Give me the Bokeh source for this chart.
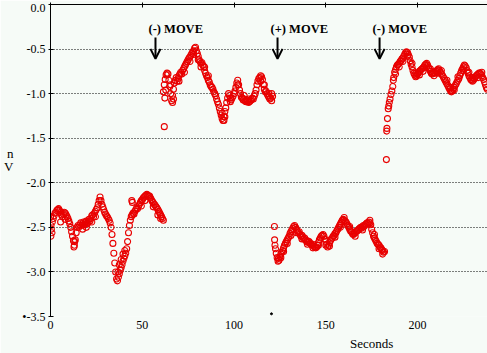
from bokeh.plotting import figure
from bokeh.models import (Range1d, LinearAxis, FixedTicker, NumeralTickFormatter,
                          ColumnDataSource, Arrow, OpenHead)
from bokeh.core.properties import value
from bokeh.embed import file_html
from bokeh.resources import INLINE
import numpy as np

# ---------------- data ----------------
STEP = 0.5  # sampling interval of the trace, s

seg_a_start = 0.0
seg_a_vm = [-2.38, -2.52, -2.44, -2.40, -2.37, -2.34, -2.33, -2.31, -2.30, -2.29,
            -2.31, -2.33, -2.36, -2.38, -2.35, -2.33, -2.34, -2.36, -2.38, -2.40,
            -2.43, -2.46, -2.50, -2.55, -2.60, -2.65, -2.70, -2.64, -2.56, -2.50,
            -2.48, -2.50, -2.47, -2.45, -2.48, -2.46, -2.44, -2.47, -2.45, -2.43,
            -2.46, -2.44, -2.41, -2.43, -2.40, -2.37, -2.36, -2.38, -2.34, -2.32,
            -2.30, -2.28, -2.24, -2.20, -2.16, -2.20, -2.24, -2.27, -2.30, -2.33,
            -2.35, -2.37, -2.38, -2.40, -2.42, -2.45, -2.50, -2.58, -2.68, -2.79,
            -2.90, -3.00, -3.08, -3.10, -3.06, -3.02, -2.98, -2.95, -2.92, -2.88,
            -2.85, -2.82, -2.79, -2.74, -2.66, -2.56, -2.48, -2.42, -2.38, -2.36,
            -2.34, -2.35, -2.32, -2.30, -2.28, -2.29, -2.26, -2.24, -2.22, -2.20,
            -2.19, -2.17, -2.16, -2.15, -2.14, -2.13, -2.14, -2.15, -2.15, -2.17,
            -2.19, -2.21, -2.22, -2.24, -2.25, -2.27, -2.28, -2.30, -2.32, -2.34,
            -2.36, -2.38, -2.40, -2.42]

seg_b_start = 61.5
seg_b_vm = [-0.98, -0.90, -0.84, -0.79, -0.77, -0.78, -0.85, -0.92, -1.00, -1.08,
            -1.02, -0.95, -0.88, -0.85, -0.82, -0.86, -0.83, -0.80, -0.78, -0.76,
            -0.78, -0.74, -0.72, -0.70, -0.68, -0.66, -0.64, -0.62, -0.60, -0.59,
            -0.57, -0.55, -0.53, -0.52, -0.49, -0.48, -0.52, -0.55, -0.58, -0.62,
            -0.64, -0.66, -0.65, -0.68, -0.70, -0.74, -0.77, -0.80, -0.82, -0.85,
            -0.87, -0.90, -0.92, -0.93, -0.95, -0.98, -1.00, -1.02, -1.06, -1.09,
            -1.12, -1.16, -1.20, -1.24, -1.28, -1.30, -1.26, -1.20, -1.16, -1.10,
            -1.05, -1.00, -1.02, -1.05, -1.07, -1.05, -1.03, -1.00, -0.97, -0.93,
            -0.88, -0.85, -0.90, -0.96, -1.00, -1.04, -1.05, -1.07, -1.06, -1.08,
            -1.09, -1.07, -1.08, -1.06, -1.09, -1.08, -1.07, -1.05, -1.06, -1.03,
            -1.00, -0.96, -0.90, -0.86, -0.83, -0.82, -0.80, -0.81, -0.84, -0.90,
            -0.95, -0.98, -0.97, -1.00, -1.02, -1.04, -1.06, -1.05, -1.08, -1.03]

jump_c_t = [122.0, 122.1, 122.3, 122.6, 123.0, 123.5, 124.0, 124.5]
jump_c_vm = [-2.49, -2.64, -2.70, -2.74, -2.79, -2.84, -2.88, -2.87]

seg_c_start = 125.0
seg_c_vm = [-2.83, -2.80, -2.78, -2.76, -2.73, -2.70, -2.68, -2.66, -2.64, -2.62,
            -2.60, -2.57, -2.55, -2.53, -2.51, -2.49, -2.48, -2.50, -2.52, -2.54,
            -2.56, -2.55, -2.58, -2.60, -2.59, -2.61, -2.63, -2.62, -2.64, -2.66,
            -2.65, -2.67, -2.66, -2.68, -2.69, -2.70, -2.69, -2.71, -2.72, -2.73,
            -2.72, -2.70, -2.67, -2.64, -2.62, -2.60, -2.59, -2.58, -2.60, -2.63,
            -2.66, -2.69, -2.72, -2.70, -2.67, -2.65, -2.63, -2.62, -2.60, -2.59,
            -2.57, -2.56, -2.54, -2.52, -2.50, -2.48, -2.46, -2.44, -2.42, -2.41,
            -2.42, -2.43, -2.44, -2.46, -2.48, -2.50, -2.52, -2.54, -2.55, -2.57,
            -2.58, -2.57, -2.56, -2.55, -2.54, -2.53, -2.52, -2.51, -2.50, -2.51,
            -2.49, -2.48, -2.49, -2.47, -2.46, -2.45, -2.46, -2.44, -2.45, -2.47,
            -2.52, -2.56, -2.60, -2.62, -2.64, -2.66, -2.68, -2.69, -2.70, -2.72,
            -2.73, -2.75, -2.76, -2.78, -2.77]

jump_d_t = [183.0, 183.2, 183.3, 183.6, 184.0, 184.3, 184.6, 185.0, 185.5, 186.0, 186.5, 187.0]
jump_d_vm = [-1.74, -1.42, -1.39, -1.28, -1.17, -1.14, -1.10, -1.06, -1.01, -0.97, -0.92, -0.82]

seg_d_start = 187.5
seg_d_vm = [-0.76, -0.73, -0.70, -0.68, -0.67, -0.66, -0.64, -0.63, -0.61, -0.60,
            -0.58, -0.56, -0.54, -0.53, -0.54, -0.56, -0.59, -0.63, -0.67, -0.70,
            -0.74, -0.77, -0.79, -0.81, -0.80, -0.78, -0.77, -0.75, -0.74, -0.73,
            -0.72, -0.71, -0.70, -0.68, -0.67, -0.66, -0.68, -0.71, -0.73, -0.75,
            -0.77, -0.78, -0.77, -0.76, -0.77, -0.75, -0.74, -0.73, -0.72, -0.74,
            -0.76, -0.78, -0.79, -0.81, -0.83, -0.85, -0.87, -0.89, -0.91, -0.93,
            -0.95, -0.97, -0.98, -0.97, -0.95, -0.93, -0.91, -0.89, -0.87, -0.85,
            -0.83, -0.80, -0.77, -0.74, -0.72, -0.70, -0.68, -0.69, -0.71, -0.74,
            -0.77, -0.80, -0.82, -0.84, -0.85, -0.86, -0.85, -0.83, -0.81, -0.80,
            -0.79, -0.78, -0.77, -0.77, -0.78, -0.80, -0.82, -0.84, -0.87, -0.90,
            -0.93, -0.95]

# extra samples that thicken the trace (scatter around the main course)
extra_t = [0.2, 0.3, 0.8, 5.5, 8.0, 12.8, 13.2, 17.5, 19.5, 22.5, 24.5, 36.8, 37.5, 38.5,
           39.5, 40.5, 44.3, 44.6, 49.5, 51.5, 56.0, 58.5, 60.0,
           62.0, 62.3, 62.8, 65.5, 66.5, 67.0, 70.0, 73.0, 76.0, 78.0, 80.5, 82.0, 84.0,
           86.0, 93.5, 94.5, 95.0, 98.0, 102.0, 105.5, 108.0, 114.5, 116.5, 119.0, 120.5,
           124.2, 125.5, 127.0, 129.0, 131.0, 134.0, 137.0, 140.0, 143.0, 146.0, 150.0,
           152.0, 155.0, 158.0, 160.0, 163.0, 166.0, 170.0, 174.0, 176.5, 179.0, 181.0,
           186.8, 188.0, 190.0, 192.0, 194.5, 197.0, 199.0, 201.0, 203.0, 205.0, 207.0,
           209.0, 211.0, 213.0, 216.0, 218.0, 220.0, 222.0, 225.0, 228.0, 230.0, 233.0, 235.0]
extra_vm = [-2.60, -2.48, -2.56, -2.44, -2.41, -2.72, -2.66, -2.52, -2.50, -2.44, -2.38, -3.00, -2.92, -2.86,
            -2.80, -2.76, -2.20, -2.22, -2.26, -2.20, -2.27, -2.36, -2.40,
            -1.37, -1.05, -0.96, -0.90, -1.10, -1.06, -0.86, -0.76, -0.64, -0.56, -0.62, -0.70, -0.70,
            -0.80, -1.22, -1.30, -1.26, -1.09, -0.90, -1.02, -1.10, -0.86, -0.90, -1.00, -1.00,
            -2.85, -2.84, -2.77, -2.68, -2.59, -2.56, -2.63, -2.69, -2.73, -2.70, -2.70,
            -2.71, -2.61, -2.50, -2.39, -2.49, -2.60, -2.53, -2.42, -2.58, -2.74, -2.80,
            -0.85, -0.78, -0.70, -0.64, -0.58, -0.66, -0.77, -0.79, -0.75, -0.70, -0.72,
            -0.80, -0.77, -0.74, -0.85, -0.93, -0.96, -0.81, -0.74, -0.76, -0.82, -0.82, -0.76]

stray_t = [120.4]
stray_vm = [-3.47]

move_labels = ["(-) MOVE", "(+) MOVE", "(-) MOVE"]
move_t = [57.2, 123.7, 179.3]
arrow_top = -0.37
arrow_tip = -0.61
label_vm = -0.27

x_ticks = [0, 50, 100, 150, 200]
y_ticks = [-3.5, -3.0, -2.5, -2.0, -1.5, -1.0, -0.5, 0.0]
x_title = "Seconds"
x_title_at = 175
y_title_parts = ["n", "V"]          # only these glyphs of the y title are visible
y_title_at = [-1.67, -1.82]

# ---------------- assemble ----------------
def seg(start, vals):
    return list(start + STEP * np.arange(len(vals))), list(vals)

t_all, v_all = [], []
for s, vals in [(seg_a_start, seg_a_vm), (seg_b_start, seg_b_vm),
                (seg_c_start, seg_c_vm), (seg_d_start, seg_d_vm)]:
    tt, vv = seg(s, vals)
    t_all += tt
    v_all += vv
t_all += jump_c_t + jump_d_t + extra_t
v_all += jump_c_vm + jump_d_vm + extra_vm

BG = "#f6fbf7"
SERIF = "Liberation Serif"

p = figure(width=487, height=353, output_backend="svg", toolbar_location=None,
           x_range=Range1d(0, 238.1), y_range=Range1d(-3.5, 0.0),
           min_border_left=50, min_border_right=0, min_border_top=4, min_border_bottom=37,
           background_fill_color=BG, border_fill_color=BG, outline_line_color=None)

# bottom axis: labels only
xa = p.xaxis[0]
xa.ticker = FixedTicker(ticks=x_ticks)
xa.axis_line_color = None
xa.major_tick_line_color = None
xa.minor_tick_line_color = None
xa.major_tick_out = 0
xa.major_tick_in = 0
xa.major_label_standoff = 4
xa.major_label_text_font = SERIF
xa.major_label_text_font_size = "12px"
xa.major_label_text_color = "black"

# x title as an outer label-only axis
xt = LinearAxis(ticker=FixedTicker(ticks=[x_title_at]),
                major_label_overrides={x_title_at: x_title},
                axis_line_color=None, major_tick_line_color=None,
                minor_tick_line_color=None, major_tick_in=0, major_tick_out=0,
                major_label_standoff=4, major_label_text_font=SERIF,
                major_label_text_font_size="13px", major_label_text_color="black")
p.add_layout(xt, "below")

# top axis: line and ticks only (no labels)
top = LinearAxis(ticker=FixedTicker(ticks=x_ticks), axis_line_color="black",
                 axis_line_width=1,
                 major_tick_line_color="black", major_tick_in=3, major_tick_out=2,
                 minor_tick_line_color=None,
                 major_label_overrides={t: "" for t in x_ticks},
                 major_label_text_font_size="1px", major_label_standoff=0)
p.add_layout(top, "above")

ya = p.yaxis[0]
ya.ticker = FixedTicker(ticks=y_ticks)
ya.formatter = NumeralTickFormatter(format="0.0")
ya.major_label_overrides = {-3.5: "•-3.5"}
ya.axis_line_color = "black"
ya.major_tick_line_color = "black"
ya.major_tick_in = 3
ya.major_tick_out = 2
ya.minor_tick_line_color = None
ya.major_label_standoff = 3
ya.major_label_text_font = SERIF
ya.major_label_text_font_size = "12px"
ya.major_label_text_color = "black"

# y title (cut off at the window edge in the original) as an outer label-only axis
yt = LinearAxis(ticker=FixedTicker(ticks=y_title_at),
                major_label_overrides=dict(zip(y_title_at, y_title_parts)),
                axis_line_color=None, major_tick_line_color=None,
                minor_tick_line_color=None, major_tick_in=0, major_tick_out=0,
                major_label_standoff=6, major_label_text_font=SERIF,
                major_label_text_font_size="13px", major_label_text_color="black")
p.add_layout(yt, "left")

p.xgrid.visible = False
p.ygrid.ticker = FixedTicker(ticks=y_ticks[:-1])
p.ygrid.grid_line_color = "black"
p.ygrid.grid_line_dash = "1 2"
p.ygrid.grid_line_width = 1

p.scatter(t_all, v_all, marker="circle", size=6, fill_color=None,
          line_color="#e80000", line_width=1.1)
p.scatter(stray_t, stray_vm, marker="circle", size=2, color="black")

# MOVE markers
msrc = ColumnDataSource(dict(x=move_t, y0=[arrow_top] * 3, y1=[arrow_tip] * 3,
                             ly=[label_vm] * 3, txt=move_labels))
p.add_layout(Arrow(source=msrc, x_start="x", y_start="y0", x_end="x", y_end="y1",
                   line_width=2, line_color="black",
                   end=OpenHead(size=10, line_width=2, line_color="black")))
p.text(x="x", y="ly", text="txt", source=msrc, x_offset=-7,
       text_font=value(SERIF), text_font_style="bold", text_font_size="12.5px",
       text_align="left", text_baseline="middle", text_color="black")

open("out.html", "w").write(file_html(p, INLINE))
